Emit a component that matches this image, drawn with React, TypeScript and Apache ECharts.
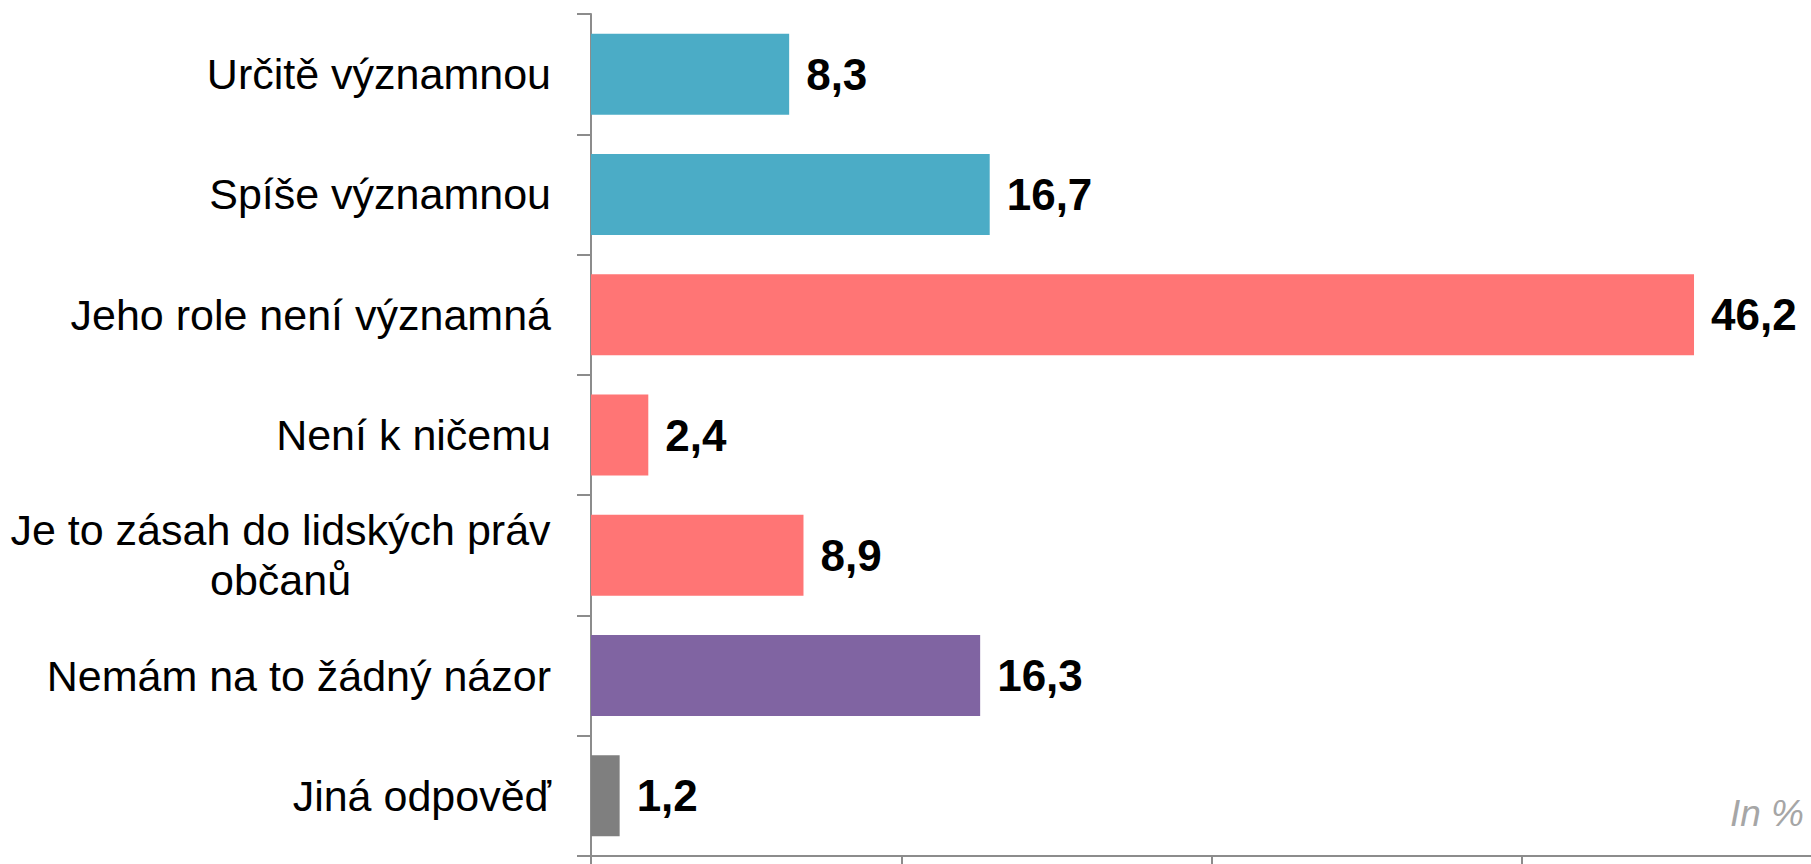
import React, { useEffect, useRef } from "react";
import * as echarts from "echarts";

const categories = [
  "Určitě významnou",
  "Spíše významnou",
  "Jeho role není významná",
  "Není k ničemu",
  "Je to zásah do lidských práv\nobčanů",
  "Nemám na to žádný názor",
  "Jiná odpověď",
];
const values = [8.3, 16.7, 46.2, 2.4, 8.9, 16.3, 1.2];
const groups = ["yes", "yes", "no", "no", "no", "none", "other"];
const groupColors: Record<string, string> = {
  yes: "#4BACC6",
  no: "#FF7575",
  none: "#8064A2",
  other: "#7F7F7F",
};
const xTickValues = [0, 13, 26, 39];
const xMax = 51.1;
const unitNote = "In %";

const FONT = "'Liberation Sans', Arial, sans-serif";

export default function App() {
  const ref = useRef<HTMLDivElement>(null);
  useEffect(() => {
    const chart = echarts.init(ref.current!, null, { renderer: "svg" });
    chart.setOption({
      animation: false,
      backgroundColor: "#ffffff",
      grid: { left: 591, right: 0, top: 14, bottom: 8, containLabel: false },
      xAxis: {
        type: "value",
        min: 0,
        max: xMax,
        axisLine: { show: true, lineStyle: { color: "#8C8C8C", width: 2 } },
        axisTick: {
          show: true,
          length: 10,
          customValues: xTickValues,
          lineStyle: { color: "#8C8C8C", width: 2 },
        },
        axisLabel: { show: false },
        splitLine: { show: false },
      },
      yAxis: {
        type: "category",
        data: categories,
        inverse: true,
        axisLine: { show: true, lineStyle: { color: "#8C8C8C", width: 2 } },
        axisTick: { show: true, length: 14, lineStyle: { color: "#8C8C8C", width: 2 } },
        axisLabel: {
          margin: 40,
          color: "#000000",
          fontFamily: FONT,
          fontSize: 43,
          lineHeight: 50,
          formatter: (v: string) =>
            v.includes("\n")
              ? v
                  .split("\n")
                  .map((l) => `{c|${l}}`)
                  .join("\n")
              : v,
          rich: {
            c: {
              width: 541,
              align: "center",
              fontSize: 43,
              lineHeight: 50,
              color: "#000000",
              fontFamily: FONT,
            },
          },
        },
      },
      series: [
        {
          type: "bar",
          barWidth: 81,
          data: values.map((v, i) => ({
            value: v,
            itemStyle: { color: groupColors[groups[i]] },
          })),
          label: {
            show: true,
            position: "right",
            distance: 17,
            color: "#000000",
            fontFamily: FONT,
            fontWeight: "bold",
            fontSize: 44,
            formatter: (p: any) => String(p.value).replace(".", ","),
          },
        },
      ],
      graphic: [
        {
          type: "text",
          right: 7,
          top: 795,
          style: {
            text: unitNote,
            fontFamily: FONT,
            fontStyle: "italic",
            fontSize: 37,
            fill: "#A6A6A6",
          },
        },
      ],
    });
    return () => chart.dispose();
  }, []);
  return (
    <div
      ref={ref}
      style={{ position: "fixed", left: 0, top: 0, width: 1811, height: 864 }}
    />
  );
}
